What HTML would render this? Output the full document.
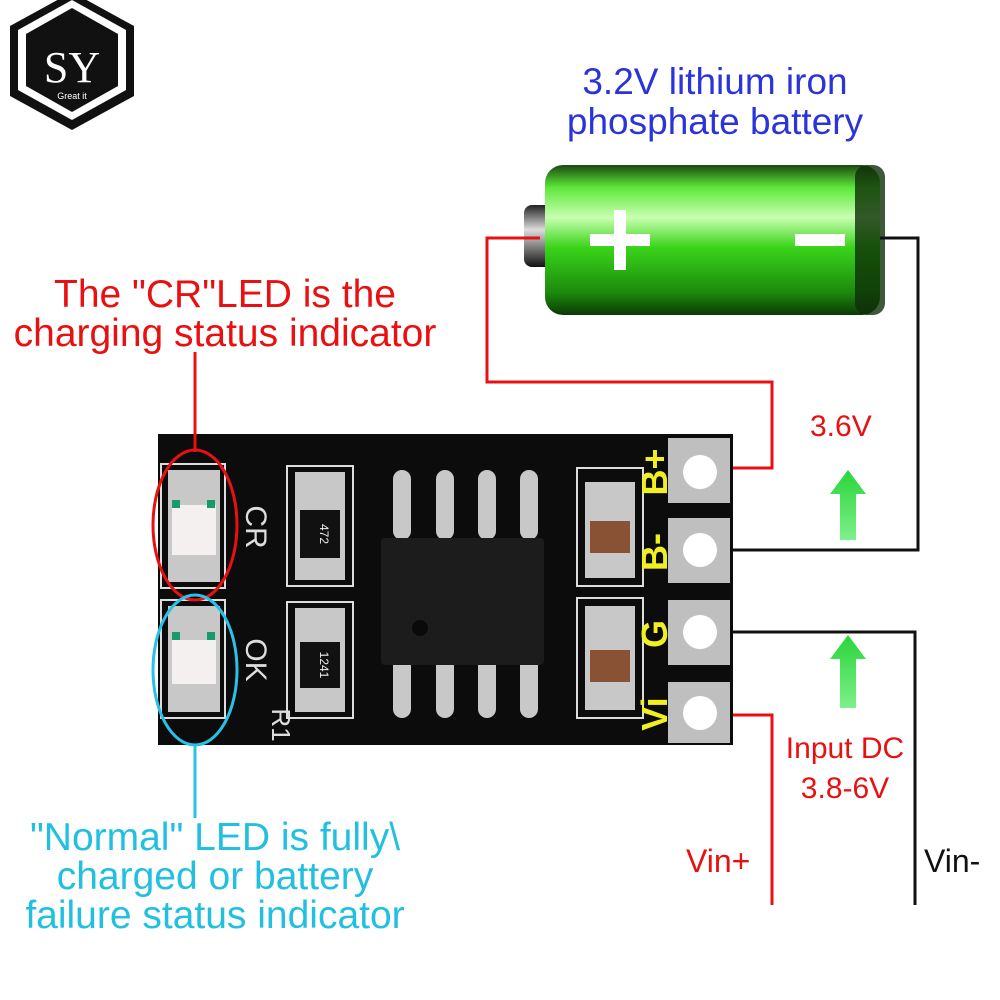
<!DOCTYPE html>
<html><head><style>
body{margin:0;width:1000px;height:1000px;background:#fff;position:relative;overflow:hidden;font-family:"Liberation Sans",sans-serif}
.t{position:absolute;white-space:nowrap;text-align:center}
</style></head><body>
<svg width="1000" height="1000" style="position:absolute;left:0;top:0">
<defs>
<linearGradient id="bat" x1="0" y1="0" x2="0" y2="1">
<stop offset="0" stop-color="#1a4a10"/><stop offset="0.15" stop-color="#5ee83a"/><stop offset="0.35" stop-color="#c8ffb0"/><stop offset="0.55" stop-color="#3ad41a"/><stop offset="0.85" stop-color="#1c8a0c"/><stop offset="1" stop-color="#0c3a06"/></linearGradient>
<linearGradient id="cap" x1="0" y1="0" x2="0" y2="1">
<stop offset="0" stop-color="#222"/><stop offset="0.4" stop-color="#ddd"/><stop offset="1" stop-color="#111"/></linearGradient>
<linearGradient id="arr" x1="0" y1="0" x2="0" y2="1"><stop offset="0" stop-color="#2ad43a"/><stop offset="1" stop-color="#7ef08a"/></linearGradient>
</defs>
<polygon points="72,2 134,36 134,106 72,140 10,106 10,36" fill="#111" transform="translate(0,-10)"/>
<polygon points="72,10 126,40 126,100 72,130 18,100 18,40" fill="#fff" transform="translate(0,-10)"/>
<polygon points="72,18 118,44 118,96 72,122 26,96 26,44" fill="#111" transform="translate(0,-10)"/>
<text x="72" y="82" font-family="Liberation Serif" font-size="44" fill="#fff" text-anchor="middle">SY</text>
<text x="72" y="99" font-size="9" fill="#fff" text-anchor="middle">Great it</text>
<rect x="524" y="205" width="30" height="62" rx="8" fill="url(#cap)"/>
<rect x="545" y="165" width="335" height="150" rx="18" fill="url(#bat)"/>
<rect x="855" y="165" width="30" height="150" rx="12" fill="#0e2e08" opacity="0.8"/>
<rect x="590" y="234" width="60" height="12" fill="#fff"/><rect x="614" y="210" width="12" height="60" fill="#fff"/>
<rect x="795" y="234" width="50" height="12" fill="#fff"/>
<polyline points="540,238 487,238 487,382 772,382 772,468 705,468" fill="none" stroke="#e81010" stroke-width="3"/>
<polyline points="880,238 918,238 918,550 705,550" fill="none" stroke="#111" stroke-width="3"/>
<polyline points="705,632 915,632 915,905" fill="none" stroke="#111" stroke-width="3"/>
<polyline points="705,715 772,715 772,905" fill="none" stroke="#e81010" stroke-width="3"/>
<rect x="158" y="434" width="575" height="311" fill="#0c0c0c"/>
<g fill="#bfbfbf">
<rect x="668" y="438" width="62" height="65"/><rect x="668" y="518" width="62" height="65"/>
<rect x="668" y="600" width="62" height="65"/><rect x="668" y="682" width="62" height="61"/>
</g>
<g fill="#fff"><circle cx="700" cy="472" r="17"/><circle cx="700" cy="550" r="17"/><circle cx="700" cy="632" r="17"/><circle cx="700" cy="713" r="17"/></g>
<g fill="#c8c8c8">
<rect x="393" y="470" width="18" height="70" rx="9"/><rect x="436" y="470" width="18" height="70" rx="9"/><rect x="478" y="470" width="18" height="70" rx="9"/><rect x="520" y="470" width="18" height="70" rx="9"/>
<rect x="393" y="650" width="18" height="68" rx="9"/><rect x="436" y="650" width="18" height="68" rx="9"/><rect x="478" y="650" width="18" height="68" rx="9"/><rect x="520" y="650" width="18" height="68" rx="9"/>
</g>
<rect x="381" y="538" width="163" height="127" rx="4" fill="#1c1c1c"/>
<circle cx="420" cy="628" r="8" fill="#0a0a0a"/>
<g stroke="#ddd" stroke-width="2" fill="none"><rect x="287" y="466" width="66" height="120"/><rect x="287" y="602" width="66" height="116"/>
<rect x="161" y="464" width="64" height="124"/><rect x="161" y="600" width="64" height="118"/>
<rect x="577" y="468" width="66" height="118"/><rect x="577" y="598" width="66" height="120"/></g>
<g fill="#c8c8c8"><rect x="295" y="472" width="50" height="108"/><rect x="295" y="608" width="50" height="104"/></g>
<rect x="300" y="510" width="40" height="48" fill="#111"/><rect x="300" y="642" width="40" height="46" fill="#111"/>
<text x="320" y="534" font-size="12" fill="#eee" text-anchor="middle" transform="rotate(90 320 534)">472</text>
<text x="320" y="665" font-size="12" fill="#eee" text-anchor="middle" transform="rotate(90 320 665)">1241</text>
<g fill="#c8c8c8"><rect x="585" y="482" width="50" height="96"/><rect x="585" y="606" width="50" height="104"/></g>
<rect x="590" y="521" width="40" height="32" fill="#8a5234"/><rect x="590" y="650" width="40" height="32" fill="#8a5234"/>
<g fill="#c8c8c8"><rect x="168" y="470" width="52" height="112"/><rect x="168" y="606" width="52" height="106"/></g>
<g fill="#f4f0f0"><rect x="172" y="505" width="44" height="50"/><rect x="172" y="640" width="44" height="44"/></g>
<g fill="#1a9a6a"><rect x="172" y="500" width="8" height="8"/><rect x="207" y="500" width="8" height="8"/><rect x="172" y="632" width="8" height="8"/><rect x="207" y="632" width="8" height="8"/></g>
<text x="246" y="527" font-size="30" fill="#ddd" text-anchor="middle" transform="rotate(90 246 527)">CR</text>
<text x="246" y="660" font-size="30" fill="#ddd" text-anchor="middle" transform="rotate(90 246 660)">OK</text>
<text x="272" y="725" font-size="26" fill="#ddd" text-anchor="middle" transform="rotate(90 272 725)">R1</text>
<g font-weight="bold" font-size="36" fill="#f0f020" text-anchor="middle">
<text x="0" y="0" transform="translate(667,472) rotate(-90)">B+</text>
<text x="0" y="0" transform="translate(667,552) rotate(-90)">B-</text>
<text x="0" y="0" transform="translate(667,634) rotate(-90)">G</text>
<text x="0" y="0" transform="translate(667,714) rotate(-90)">Vi</text>
</g>
<line x1="195" y1="352" x2="195" y2="452" stroke="#e81010" stroke-width="3"/>
<ellipse cx="195" cy="525" rx="42" ry="75" fill="none" stroke="#e81010" stroke-width="3"/>
<ellipse cx="195" cy="670" rx="42" ry="75" fill="none" stroke="#2ac0e8" stroke-width="3"/>
<line x1="195" y1="745" x2="195" y2="818" stroke="#2ac0e8" stroke-width="3"/>
<polygon points="848,470 866,494 856,494 856,540 840,540 840,494 830,494" fill="url(#arr)"/>
<polygon points="848,635 866,659 856,659 856,708 840,708 840,659 830,659" fill="url(#arr)"/>
</svg>
<div class="t" style="left:515px;top:62px;width:400px;font-size:37px;line-height:40px;color:#2a34d8">3.2V lithium iron<br>phosphate battery</div>
<div class="t" style="left:0;top:275px;width:450px;font-size:39px;line-height:39px;color:#e81010">The "CR"LED is the<br>charging status indicator</div>
<div class="t" style="left:810px;top:410px;font-size:30px;color:#e81010">3.6V</div>
<div class="t" style="left:770px;top:729px;width:150px;font-size:30px;line-height:40px;color:#e81010">Input DC<br>3.8-6V</div>
<div class="t" style="left:686px;top:843px;font-size:32px;color:#e81010">Vin+</div>
<div class="t" style="left:924px;top:843px;font-size:32px;color:#111">Vin-</div>
<div class="t" style="left:0;top:818px;width:430px;font-size:39px;line-height:39px;color:#22c0e0">"Normal" LED is fully\<br>charged or battery<br>failure status indicator</div>
</body></html>
